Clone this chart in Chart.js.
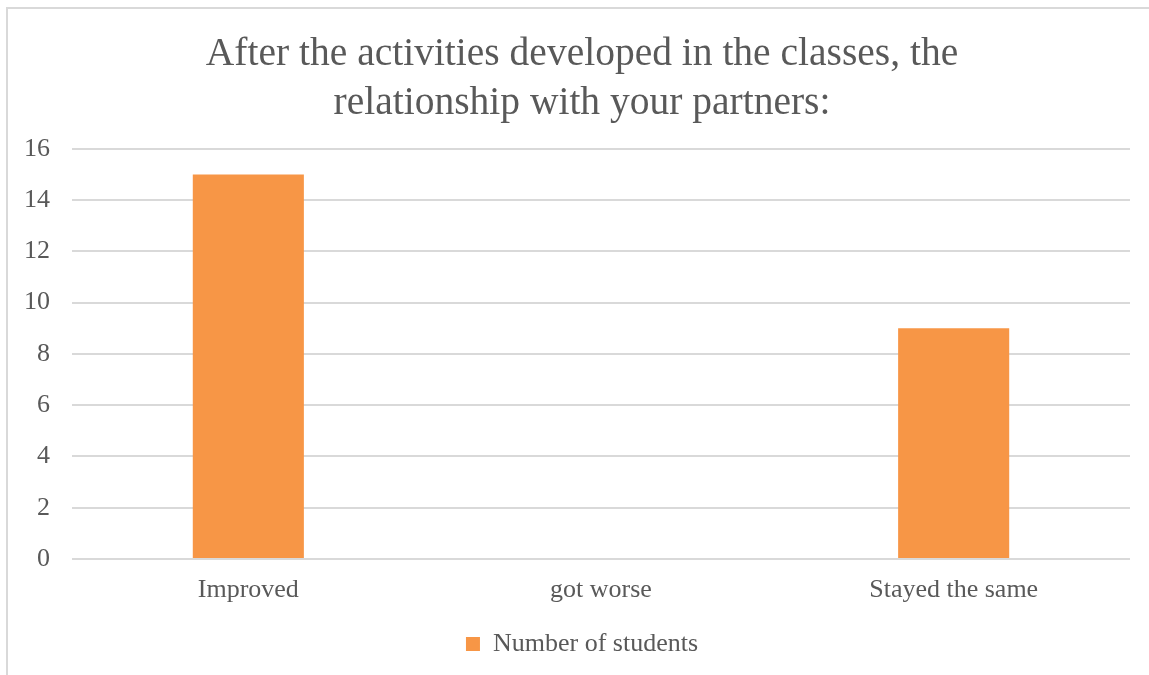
<!DOCTYPE html>
<html>
<head>
<meta charset="utf-8">
<script src="https://cdn.jsdelivr.net/npm/chart.js@4"></script>
<style>
  html, body { margin: 0; padding: 0; background: #ffffff; overflow: hidden; }
  #frame { position: absolute; left: 6px; top: 7px; width: 1200px; height: 700px;
           border-left: 2px solid #d9d9d9; border-top: 2px solid #d9d9d9; }
  #wrap { position: absolute; left: 0; top: 0; width: 1149px; height: 675px; }
</style>
</head>
<body>
<div id="frame"></div>
<div id="wrap"><canvas id="myChart"></canvas></div>
<script>
const categories = ['Improved', 'got worse', 'Stayed the same'];
const students = [15, 0, 9];
const yTicks = [0, 2, 4, 6, 8, 10, 12, 14, 16];
const seriesName = 'Number of students';
const titleLines = ['After the activities developed in the classes, the', 'relationship with your partners:'];

const textColor = '#595959';
const gridColor = '#d9d9d9';
const barColor = '#f79646';
const fontFamily = "'Liberation Serif', serif";

const ctx = document.getElementById('myChart').getContext('2d');

new Chart(ctx, {
  type: 'bar',
  data: {
    labels: categories,
    datasets: [{
      label: seriesName,
      data: students,
      backgroundColor: barColor,
      borderWidth: 0,
      categoryPercentage: 1,
      barPercentage: 0.315
    }]
  },
  options: {
    responsive: true,
    maintainAspectRatio: false,
    animation: false,
    layout: { padding: { left: 20, right: 5, top: 30, bottom: 8 } },
    scales: {
      x: {
        grid: { display: false },
        border: { display: false },
        afterFit: (axis) => { axis.height = 58; },
        ticks: { color: textColor, padding: 8, font: { family: fontFamily, size: 26 } }
      },
      y: {
        min: 0,
        max: 16,
        afterBuildTicks: (axis) => { axis.ticks = yTicks.map(v => ({ value: v })); },
        afterFit: (axis) => { axis.width = 52; },
        border: { display: false },
        grid: { color: gridColor, lineWidth: 2, drawTicks: false },
        ticks: { color: textColor, padding: 22, font: { family: fontFamily, size: 26 } }
      },
      // empty right-hand axis, only keeps a margin so the title stays centred like the original
      yr: {
        position: 'right',
        grid: { display: false },
        border: { display: false },
        ticks: { display: false },
        afterFit: (axis) => { axis.width = 14; }
      }
    },
    plugins: {
      title: {
        display: true,
        text: titleLines,
        color: textColor,
        font: { family: fontFamily, size: 39.5, weight: 'normal', lineHeight: 1.25 },
        padding: { top: 0, bottom: 20 }
      },
      legend: {
        position: 'bottom',
        labels: {
          color: textColor,
          boxWidth: 14,
          boxHeight: 14,
          padding: 14,
          font: { family: fontFamily, size: 26 }
        }
      },
      tooltip: { enabled: false }
    }
  }
});
</script>
</body>
</html>
